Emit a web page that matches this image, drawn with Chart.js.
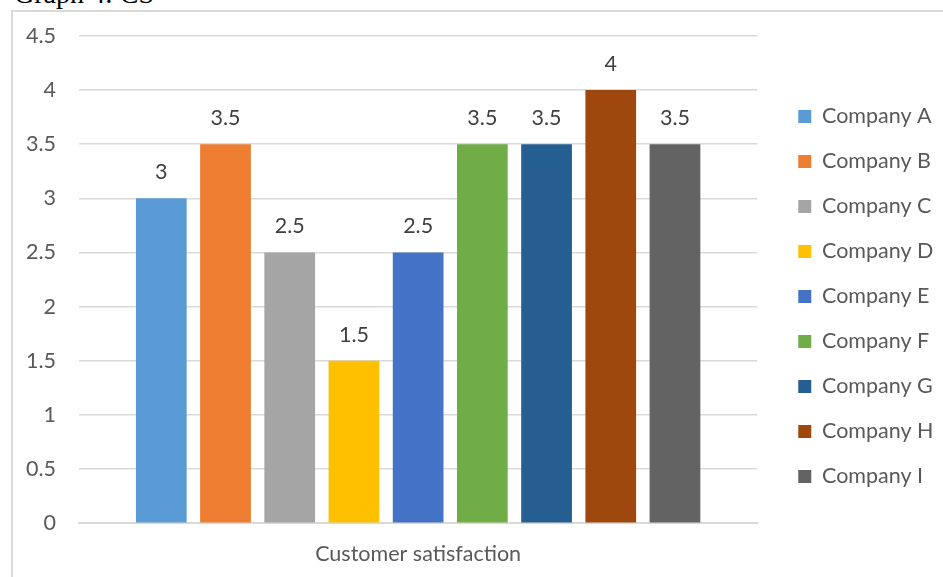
<!DOCTYPE html>
<html>
<head>
<meta charset="utf-8">
<script src="https://cdn.jsdelivr.net/npm/chart.js@4.4.0/dist/chart.umd.min.js"></script>
<style>
  html, body { margin: 0; padding: 0; background: #fff; overflow: hidden; }
  #page { position: relative; width: 943px; height: 577px; overflow: hidden; }
  #caption {
    position: absolute; left: 14px; top: -22px;
    font-family: "Liberation Serif", "DejaVu Serif", serif; font-size: 28px; color: #000;
    white-space: nowrap;
  }
  #frame {
    position: absolute; left: 11px; top: 10px; width: 1000px; height: 1000px;
    border: 2px solid #d9d9d9;
  }
  #chart { position: absolute; left: 0; top: 0; }
</style>
</head>
<body>
<div id="page">
  <div id="caption">Graph 4: CS</div>
  <div id="frame"></div>
  <canvas id="chart" width="943" height="590"></canvas>
</div>
<script>
// Chart data
const categories = ['Customer satisfaction'];
const companies = ['Company A', 'Company B', 'Company C', 'Company D', 'Company E',
                   'Company F', 'Company G', 'Company H', 'Company I'];
const scores = [3, 3.5, 2.5, 1.5, 2.5, 3.5, 3.5, 4, 3.5];
const colors = ['#5B9BD5', '#ED7D31', '#A5A5A5', '#FFC000', '#4472C4',
                '#70AD47', '#255E91', '#9E480E', '#636363'];
const yTicks = [0, 0.5, 1, 1.5, 2, 2.5, 3, 3.5, 4, 4.5];

const textColor = '#595959';
const fontFamily = 'Lato, "Open Sans", sans-serif';
const fontSize = 21.5;

// Value labels above each bar
const barValueLabels = {
    id: 'barValueLabels',
    afterDatasetsDraw(chart) {
        const ctx = chart.ctx;
        ctx.save();
        ctx.fillStyle = '#404040';
        ctx.font = fontSize + 'px ' + fontFamily;
        ctx.textAlign = 'center';
        ctx.textBaseline = 'middle';
        chart.data.datasets.forEach((ds, i) => {
            const meta = chart.getDatasetMeta(i);
            meta.data.forEach((bar, j) => {
                ctx.fillText(String(ds.data[j]), bar.x, bar.y - 26);
            });
        });
        ctx.restore();
    }
};

// Push the legend a bit away from the plot, and up a little
const legendNudge = {
    id: 'legendNudge',
    afterLayout(chart) {
        const lg = chart.legend;
        if (!lg) return;
        lg.left += 17.5;
        lg.right += 17.5;
        lg.top -= 12;
        lg.bottom -= 12;
    }
};

const datasets = companies.map((name, i) => ({
    label: name,
    data: [scores[i]],
    backgroundColor: colors[i],
    borderWidth: 0,
    categoryPercentage: 0.852,
    barPercentage: 0.79
}));

new Chart(document.getElementById('chart'), {
    type: 'bar',
    data: { labels: categories, datasets: datasets },
    options: {
        responsive: false,
        animation: false,
        layout: { padding: { left: 3, top: 32, right: 17, bottom: 5 } },
        plugins: {
            legend: {
                position: 'right',
                labels: {
                    boxWidth: 13,
                    boxHeight: 13,
                    padding: 23.5,
                    color: textColor,
                    font: { family: fontFamily, size: fontSize }
                }
            },
            tooltip: { enabled: false }
        },
        scales: {
            x: {
                grid: { display: false, drawTicks: false },
                border: { color: '#d9d9d9', width: 2 },
                ticks: { color: textColor, padding: 18, font: { family: fontFamily, size: fontSize } }
            },
            y: {
                min: 0,
                max: 4.5,
                afterBuildTicks(axis) {
                    axis.ticks = yTicks.map(v => ({ value: v }));
                },
                grid: { color: '#d9d9d9', lineWidth: 1.5, drawTicks: false },
                border: { display: false },
                ticks: {
                    color: textColor,
                    padding: 23,
                    font: { family: fontFamily, size: fontSize },
                    callback: v => String(v)
                }
            }
        }
    },
    plugins: [barValueLabels, legendNudge]
});
</script>
</body>
</html>
